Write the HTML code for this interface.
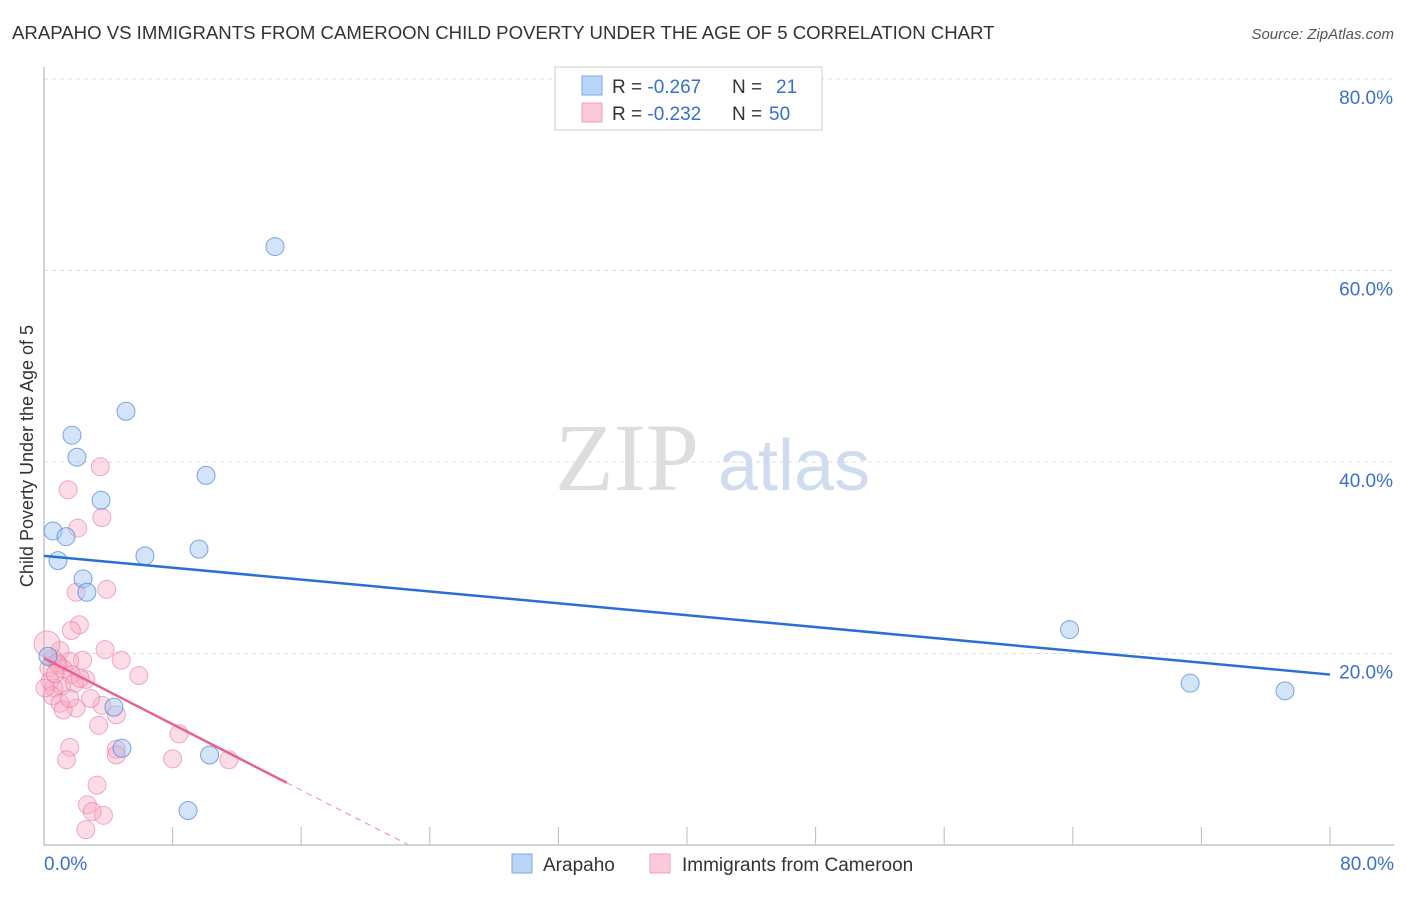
<!DOCTYPE html>
<html><head><meta charset="utf-8"><style>
body{margin:0;background:#fff;font-family:"Liberation Sans",sans-serif}
</style></head><body>
<svg id="chart" width="1406" height="892" xmlns="http://www.w3.org/2000/svg" font-family="Liberation Sans, sans-serif">
<text x="12" y="39" font-size="18.6" fill="#333">ARAPAHO VS IMMIGRANTS FROM CAMEROON CHILD POVERTY UNDER THE AGE OF 5 CORRELATION CHART</text>
<text x="1394" y="39" font-size="15" fill="#555" text-anchor="end" font-style="italic">Source: ZipAtlas.com</text>
<g id="grid"></g>
<text x="555" y="490" font-size="96" fill="#ddd" font-family="Liberation Serif, serif">ZIP</text>
<text x="718" y="490" font-size="72" fill="#cfdcf0">atlas</text>
<g id="axes"></g>
<g id="marks"></g>
<text transform="translate(33,456) rotate(-90)" font-size="18" fill="#333" text-anchor="middle">Child Poverty Under the Age of 5</text>
<g>
<rect x="555" y="67" width="267" height="63" fill="#fff" stroke="#ccc"/>
<rect x="582" y="76" width="20" height="19" fill="#b9d4f5" stroke="#7aa8e6"/>
<rect x="582" y="103" width="20" height="19" fill="#fcc9d8" stroke="#f0a0b8"/>
<text x="612" y="93" font-size="19" fill="#333">R = <tspan fill="#3370d4">-0.267</tspan></text>
<text x="732" y="93" font-size="19" fill="#333">N =</text>
<text x="776" y="93" font-size="19" fill="#3370d4">21</text>
<text x="612" y="120" font-size="19" fill="#333">R = <tspan fill="#3370d4">-0.232</tspan></text>
<text x="732" y="120" font-size="19" fill="#333">N =</text>
<text x="769" y="120" font-size="19" fill="#3370d4">50</text>
</g>
<g>
<rect x="512" y="854" width="20" height="19" fill="#b9d4f5" stroke="#7aa8e6"/>
<text x="543" y="871" font-size="19" fill="#333">Arapaho</text>
<rect x="650" y="854" width="20" height="19" fill="#fcc9d8" stroke="#f0a0b8"/>
<text x="682" y="871" font-size="19" fill="#333">Immigrants from Cameroon</text>
</g>
</svg>
<script>
const yTicks=[20,40,60,80];
const yTickLabels=["20.0%","40.0%","60.0%","80.0%"];
const arapahoX=[14.37,5.1,1.74,2.05,10.08,3.55,0.56,1.37,6.28,9.64,0.87,2.43,2.67,63.8,71.3,77.2,4.35,4.85,10.3,8.96,0.25];
const arapahoY=[62.5,45.3,42.8,40.5,38.6,36.0,32.8,32.2,30.2,30.9,29.7,27.8,26.4,22.5,16.9,16.1,14.4,10.1,9.4,3.6,19.7];
const cameroonX=[3.5,1.5,3.6,2.1,3.9,2.0,2.2,1.7,3.8,1.0,0.56,2.4,4.8,1.6,0.9,1.2,5.9,1.7,2.6,0.37,1.1,1.9,0.62,0.5,1.0,2.0,1.2,3.6,4.5,3.4,8.4,1.6,4.5,4.5,1.4,8.0,11.5,3.3,2.7,3.0,3.7,2.6,0.8,2.24,0.06,1.6,2.9,0.3,0.7,0.19];
const cameroonY=[39.5,37.1,34.2,33.1,26.7,26.4,23.0,22.4,20.4,20.3,19.5,19.3,19.3,19.2,18.8,18.4,17.7,17.8,17.3,17.1,16.6,16.9,16.4,15.6,14.8,14.3,14.1,14.6,13.6,12.5,11.6,10.2,10.0,9.4,8.9,9.0,8.9,6.25,4.2,3.5,3.1,1.6,19.0,17.4,16.4,15.3,15.3,18.5,17.9,21.0];
const blueLine=[[0,30.2],[80,17.8]];
const pinkLine=[[0,19.5],[15.1,6.5]];
const pinkDash=[[15.1,6.5],[22.7,0]];
const NS="http://www.w3.org/2000/svg";
const sx=v=>44+v/80*1286, sy=v=>845-v/20*191.5;
function mk(t,a,p){const e=document.createElementNS(NS,t);for(const k in a)e.setAttribute(k,a[k]);document.getElementById(p).appendChild(e);return e;}
yTicks.forEach((t,i)=>{
 const g=mk('line',{x1:44,x2:1394,y1:sy(t),y2:sy(t),stroke:'#ddd','stroke-dasharray':'4,4'},'grid');
 
 
 const l=mk('text',{x:1393,y:sy(t)+25,'font-size':19,fill:'#3a6fcf','text-anchor':'end'},'axes');
 l.textContent=yTickLabels[i];
 
 
});
const ax=mk('path',{d:'M44 67V845H1394',fill:'none',stroke:'#aaa'},'axes');


for(let i=1;i<=10;i++){const t=mk('line',{x1:sx(i*8),x2:sx(i*8),y1:827,y2:845,stroke:'#bbb'},'axes');
 
 }
[[0,'0.0%','start',44],[80,'80.0%','end',1394]].forEach(d=>{const l=mk('text',{x:d[3],y:870,'font-size':19,fill:'#3a6fcf','text-anchor':d[2]},'axes');l.textContent=d[1];
 
 });
cameroonX.forEach((x,i)=>{const c=mk('circle',{cx:sx(x),cy:sy(cameroonY[i]),r:i==cameroonX.length-1?13:9,fill:'rgba(248,170,195,0.4)',stroke:'rgba(232,120,155,0.6)'},'marks');
 
 });
arapahoX.forEach((x,i)=>{const c=mk('circle',{cx:sx(x),cy:sy(arapahoY[i]),r:9,fill:'rgba(160,195,240,0.45)',stroke:'rgba(70,130,220,0.7)'},'marks');
 
 });
const bl=mk('line',{x1:sx(blueLine[0][0]),y1:sy(blueLine[0][1]),x2:sx(blueLine[1][0]),y2:sy(blueLine[1][1]),stroke:'#2a6fd6','stroke-width':2.5},'marks');


const pl=mk('line',{x1:sx(pinkLine[0][0]),y1:sy(pinkLine[0][1]),x2:sx(pinkLine[1][0]),y2:sy(pinkLine[1][1]),stroke:'#e8628e','stroke-width':2.5},'marks');


const pd=mk('line',{x1:sx(pinkDash[0][0]),y1:sy(pinkDash[0][1]),x2:sx(pinkDash[1][0]),y2:sy(pinkDash[1][1]),stroke:'#f0a0b8','stroke-width':1.2,'stroke-dasharray':'6,5'},'marks');


</script>
</body></html>
